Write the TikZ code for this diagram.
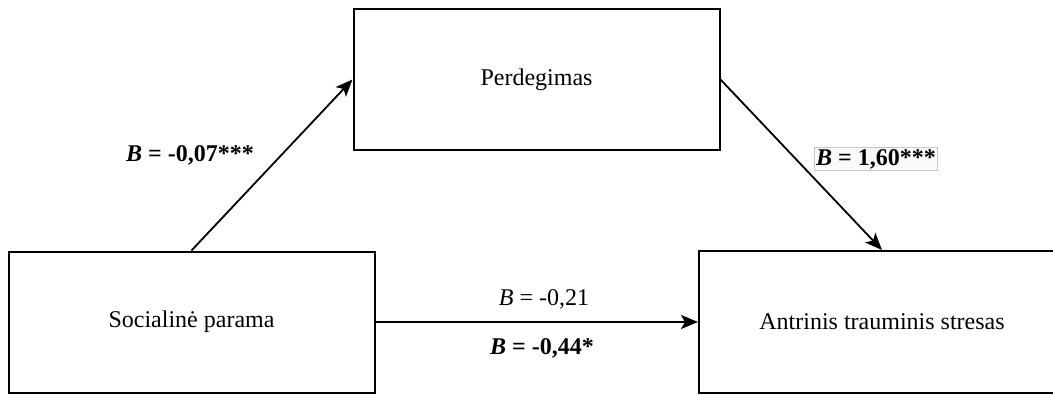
\documentclass[tikz,border=0pt]{standalone}
\usepackage{fontspec}
\setmainfont{Liberation Serif}
\usetikzlibrary{arrows.meta}
\begin{document}
\begin{tikzpicture}[x=1pt,y=-1pt,
  box/.style={draw=black,line width=2pt,minimum width=366pt,minimum height=141pt,inner sep=0pt,font=\fontsize{24}{28}\selectfont},
  conn/.style={line width=1.8pt,-{Stealth[length=17pt,width=14pt,inset=4pt]}},
  lbl/.style={font=\fontsize{24}{28}\selectfont,inner sep=1pt},
  lblb/.style={lbl,font=\fontsize{24}{28}\selectfont\bfseries}]
\clip (0,0) rectangle (1053,394);
\fill[white] (0,0) rectangle (1053,394);
\node[box] (sp) at (191.5,322) {Socialinė parama};
\node[box] (pd) at (536.5,79.5) {Perdegimas};
\node[box,minimum height=142pt] (ats) at (882,322) {Antrinis trauminis stresas};
\draw[conn] (sp.north) -- (pd.west);
\draw[conn] (pd.east) -- (ats.north);
\draw[conn] (sp.east) -- (ats.west);
\node[lblb] (l1) at (190,155) {\textit{B} = -0,07***};
\node[lblb,draw=black!22,fill=black!2,line width=0.8pt,inner sep=1.5pt] (l2) at (876,159) {\textit{B} = 1,60***};
\node[lbl] (l3) at (544,299) {\textit{B} = -0,21};
\node[lblb] (l4) at (542,348) {\textit{B} = -0,44*};
\end{tikzpicture}
\end{document}
